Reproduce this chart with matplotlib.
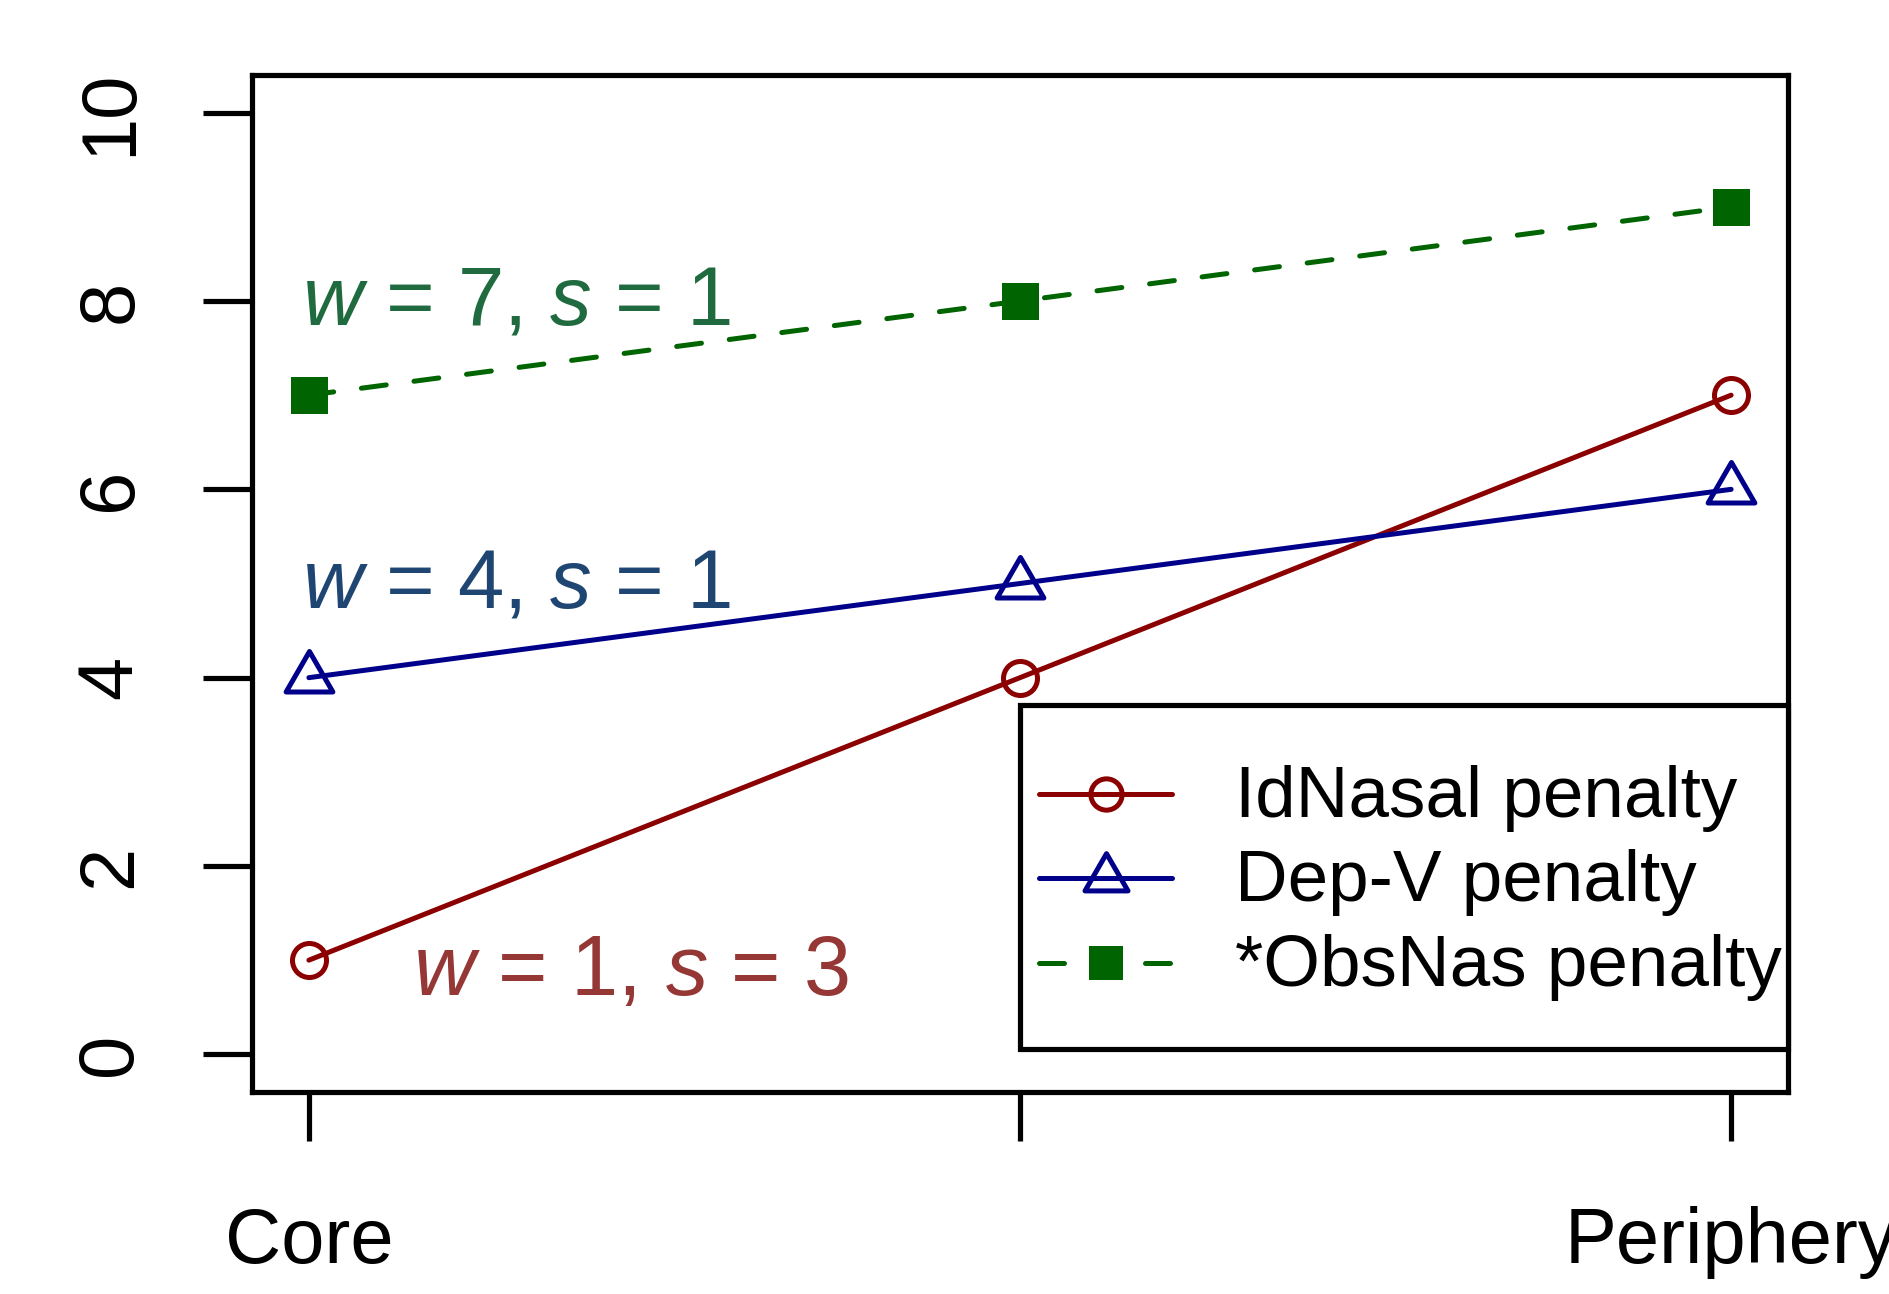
import matplotlib
matplotlib.use("Agg")
import matplotlib.pyplot as plt
from matplotlib.markers import MarkerStyle
from matplotlib.path import Path
from matplotlib.patches import Rectangle

plt.rcParams['font.family'] = ['Liberation Sans', 'DejaVu Sans']
plt.rcParams['mathtext.fontset'] = 'custom'
plt.rcParams['mathtext.rm'] = 'Liberation Sans'
plt.rcParams['mathtext.it'] = 'Liberation Sans:italic'

# ---- data ----
x_labels = ["Core", "", "Periphery"]
x_pos = [1, 2, 3]
idnasal = [1, 4, 7]
depv = [4, 5, 6]
obsnas = [7, 8, 9]
series_names = ["IdNasal penalty", "Dep-V penalty", "*ObsNas penalty"]
y_ticks = [0, 2, 4, 6, 8, 10]
notes = [r"$w$ = 7, $s$ = 1", r"$w$ = 4, $s$ = 1", r"$w$ = 1, $s$ = 3"]
note_x = [0.99, 0.99, 1.146]
note_y = [7.75, 4.745, 0.63]
note_sizes = [60, 60, 61]
note_colors = ["#1F6A3E", "#1F4672", "#953735"]

DPI = 100
W, H = 1890, 1294
fig = plt.figure(figsize=(W / DPI, H / DPI), dpi=DPI)
ax = fig.add_axes([252 / W, 202 / H, 1536 / W, 1017 / H])
px = 72 / DPI
lw_box = 5.2 * px
lw = 5 * px

tri = MarkerStyle(Path([(0, 1), (-0.8660254, -0.5), (0.8660254, -0.5), (0, 1)],
                       [1, 2, 2, 79]), joinstyle='round')

l1, = ax.plot(x_pos, idnasal, color='#8B0000', lw=lw, marker='o', ms=34 * px,
              mfc='none', mec='#8B0000', mew=lw, label=series_names[0],
              solid_capstyle='round')
l2, = ax.plot(x_pos, depv, color='#00008B', lw=lw, marker=tri, ms=54 * px,
              mfc='none', mec='#00008B', mew=lw, label=series_names[1],
              solid_capstyle='round')
l3, = ax.plot(x_pos, obsnas, color='#006400', lw=lw, ls=(0, (5.0, 5.6)),
              dash_capstyle='round', marker='s', ms=37 * px, mew=0,
              mfc='#006400', label=series_names[2])

ax.set_xlim(0.92, 3.08)
ax.set_ylim(-0.4, 10.4)
ax.set_xticks(x_pos)
ax.set_xticklabels(x_labels, fontsize=56)
ax.set_yticks(y_ticks)
ax.set_yticklabels([str(v) for v in y_ticks], rotation=90, va='center', fontsize=56)
ax.tick_params(axis='both', length=49 * px, width=lw_box, direction='out')
ax.tick_params(axis='y', pad=40)
ax.tick_params(axis='x', pad=47)
for s in ax.spines.values():
    s.set_linewidth(lw_box)

for t, x, y, c, fs in zip(notes, note_x, note_y, note_colors, note_sizes):
    ax.text(x, y, t, color=c, fontsize=fs, ha='left', va='baseline')

# legend frame
frame = Rectangle((0.5, 0.0423), 0.5, 0.3382, transform=ax.transAxes,
                  facecolor='white', edgecolor='black', lw=lw_box, zorder=4,
                  clip_on=False)
ax.add_patch(frame)
leg = ax.legend(handles=[l1, l2, l3], loc='upper left',
                bbox_to_anchor=(1039 / W, 1 - 765 / H), bbox_transform=fig.transFigure,
                frameon=False, fontsize=52.5, handlelength=1.83, handletextpad=0.86,
                labelspacing=0.24, borderpad=0, borderaxespad=0, handleheight=0.5,
                numpoints=1)
for h in leg.legend_handles:
    h.set_markersize(h.get_markersize() * 0.92)

fig.savefig("out.png", dpi=DPI)
